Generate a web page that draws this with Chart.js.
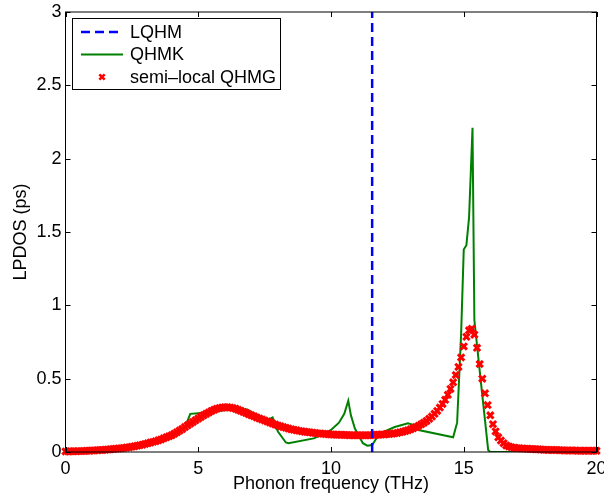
<!DOCTYPE html>
<html>
<head>
<meta charset="utf-8">
<script src="https://cdn.jsdelivr.net/npm/chart.js@4.4.1/dist/chart.umd.min.js"></script>
<style>
  html, body { margin: 0; padding: 0; background: #fff; }
  #wrap { width: 604px; height: 503px; }
</style>
</head>
<body>
<div id="wrap"><canvas id="lpdos" width="604" height="503"></canvas></div>
<script>
// LQHM: a single frequency (vertical dashed line)
const lqhmFreq = 11.55;

// QHMK curve (THz, ps)
const qhmkFreq  = [0, 1, 2, 3, 4, 4.5, 4.7, 5.0, 5.5, 6.0, 6.5, 6.85, 7.2, 7.5, 7.7, 7.8, 8.0, 8.3, 8.4, 9.35, 9.7, 10.0, 10.3, 10.5, 10.65, 10.75, 10.9, 11.05, 11.2, 11.37, 11.55, 11.7, 11.9, 12.4, 12.9, 13.1, 13.3, 14.6, 14.75, 14.9, 15.0, 15.1, 15.2, 15.33, 15.4, 15.65, 15.92, 16.0, 20];
const qhmkLpdos = [0, 0.004, 0.018, 0.045, 0.1, 0.17, 0.26, 0.265, 0.275, 0.285, 0.29, 0.29, 0.25, 0.215, 0.225, 0.235, 0.14, 0.065, 0.06, 0.093, 0.12, 0.15, 0.2, 0.26, 0.35, 0.25, 0.16, 0.11, 0.06, 0.043, 0.048, 0.09, 0.13, 0.17, 0.195, 0.185, 0.15, 0.1, 0.2, 0.8, 1.38, 1.41, 1.6, 2.21, 0.9, 0.47, 0.014, 0, 0];

// semi-local QHMG, sampled every 0.1 THz from 0 to 20
const qhmgLpdos = [
  0.004, 0.004, 0.005, 0.005, 0.005, 0.006, 0.006, 0.007, 0.008, 0.009, 0.010,
  0.011, 0.012, 0.013, 0.014, 0.016, 0.017, 0.019, 0.020, 0.022, 0.024,
  0.026, 0.028, 0.030, 0.033, 0.036, 0.039, 0.042, 0.046, 0.050, 0.055,
  0.059, 0.064, 0.069, 0.074, 0.080, 0.086, 0.093, 0.100, 0.107, 0.115,
  0.125, 0.135, 0.146, 0.157, 0.170, 0.182, 0.194, 0.205, 0.217, 0.228,
  0.239, 0.250, 0.260, 0.270, 0.280, 0.288, 0.295, 0.300, 0.303, 0.305,
  0.305, 0.303, 0.300, 0.295, 0.288, 0.281, 0.273, 0.266, 0.258, 0.250,
  0.243, 0.236, 0.229, 0.222, 0.215, 0.208, 0.201, 0.194, 0.187, 0.180,
  0.175, 0.170, 0.165, 0.160, 0.155, 0.151, 0.148, 0.144, 0.141, 0.138,
  0.136, 0.134, 0.132, 0.130, 0.127, 0.126, 0.124, 0.123, 0.121, 0.120,
  0.119, 0.118, 0.118, 0.117, 0.116, 0.116, 0.115, 0.115, 0.114, 0.114,
  0.114, 0.114, 0.114, 0.115, 0.115, 0.116, 0.117, 0.118, 0.119, 0.120,
  0.122, 0.123, 0.125, 0.127, 0.130, 0.134, 0.138, 0.143, 0.149, 0.155,
  0.162, 0.170, 0.179, 0.189, 0.200, 0.212, 0.226, 0.242, 0.260, 0.280,
  0.303, 0.328, 0.356, 0.390, 0.430, 0.475, 0.525, 0.580, 0.645, 0.720,
  0.785, 0.830, 0.840, 0.800, 0.710, 0.600, 0.500, 0.400, 0.320, 0.250,
  0.190, 0.140, 0.100, 0.078, 0.060, 0.045, 0.038, 0.032, 0.029, 0.026,
  0.025, 0.024, 0.023, 0.022, 0.021, 0.020, 0.019, 0.018, 0.017, 0.015,
  0.015, 0.014, 0.014, 0.013, 0.013, 0.012, 0.012, 0.011, 0.011, 0.010,
  0.010, 0.010, 0.009, 0.009, 0.009, 0.009, 0.008, 0.008, 0.008, 0.008
];
const qhmgStep = 0.1;

const xTicks = [0, 5, 10, 15, 20];
const yTicks = [0, 0.5, 1, 1.5, 2, 2.5, 3];

const FONT = 'Liberation Sans, Arial, Helvetica, sans-serif';

// Hilfsfunktion: Paare aus x- und y-Arrays bauen
function toPoints(xs, ys) {
    return ys.map(function(y, i) { return { x: xs[i], y: y }; });
}

const qhmgPoints = qhmgLpdos.map(function(y, i) {
    return { x: Math.round(i * qhmgStep * 10) / 10, y: y };
});

// weisser Hintergrund
const whiteBg = {
    id: 'whiteBg',
    beforeDraw(chart) {
        const c = chart.ctx;
        c.save();
        c.fillStyle = '#fff';
        c.fillRect(0, 0, chart.width, chart.height);
        c.restore();
    }
};

// MATLAB-artiger Rahmen mit Ticks nach innen
const frame = {
    id: 'frame',
    afterDatasetsDraw(chart) {
        const c = chart.ctx;
        const a = chart.chartArea;
        const xs = chart.scales.x, ys = chart.scales.y;
        const tl = 5;
        c.save();
        c.strokeStyle = '#000';
        c.lineWidth = 1;
        c.strokeRect(a.left, a.top, a.right - a.left, a.bottom - a.top);
        c.beginPath();
        xTicks.forEach(function(v) {
            const px = Math.round(xs.getPixelForValue(v)) + 0.5;
            c.moveTo(px, a.bottom); c.lineTo(px, a.bottom - tl);
            c.moveTo(px, a.top); c.lineTo(px, a.top + tl);
        });
        yTicks.forEach(function(v) {
            const py = Math.round(ys.getPixelForValue(v)) + 0.5;
            c.moveTo(a.left, py); c.lineTo(a.left + tl, py);
            c.moveTo(a.right, py); c.lineTo(a.right - tl, py);
        });
        c.stroke();
        c.restore();
    }
};

// Legende oben links im Plotbereich
const boxLegend = {
    id: 'boxLegend',
    afterDraw(chart) {
        const c = chart.ctx;
        const bx = 72.5, by = 18.5, bw = 208, bh = 71;
        c.save();
        c.fillStyle = '#fff';
        c.fillRect(bx, by, bw, bh);
        c.strokeStyle = '#000';
        c.lineWidth = 1;
        c.strokeRect(bx, by, bw, bh);

        const x0 = 81, x1 = 123, tx = 130;
        const rows = [32, 54.5, 77];

        c.lineWidth = 2.5;
        c.strokeStyle = '#0000ff';
        c.setLineDash([9, 5]);
        c.beginPath(); c.moveTo(x0, rows[0]); c.lineTo(x1, rows[0]); c.stroke();
        c.setLineDash([]);

        c.lineWidth = 2;
        c.strokeStyle = '#008000';
        c.beginPath(); c.moveTo(x0, rows[1]); c.lineTo(x1, rows[1]); c.stroke();

        c.lineWidth = 2.5;
        c.strokeStyle = '#ff0000';
        const mx = 102, my = rows[2], r = 2.7;
        c.beginPath();
        c.moveTo(mx - r, my - r); c.lineTo(mx + r, my + r);
        c.moveTo(mx - r, my + r); c.lineTo(mx + r, my - r);
        c.stroke();

        c.fillStyle = '#000';
        c.font = '18px ' + FONT;
        c.textBaseline = 'middle';
        c.textAlign = 'left';
        c.fillText('LQHM', tx, rows[0] + 1);
        c.fillText('QHMK', tx, rows[1] + 1);
        c.fillText('semi–local QHMG', tx, rows[2] + 1);
        c.restore();
    }
};

const config = {
    type: 'scatter',
    data: {
        datasets: [
            {
                label: 'LQHM',
                data: [{ x: lqhmFreq, y: 0 }, { x: lqhmFreq, y: 3 }],
                showLine: true,
                borderColor: '#0000ff',
                borderWidth: 2.5,
                borderDash: [9, 5],
                pointRadius: 0,
                order: 0
            },
            {
                label: 'QHMK',
                data: toPoints(qhmkFreq, qhmkLpdos),
                showLine: true,
                borderColor: '#008000',
                borderWidth: 2,
                tension: 0,
                pointRadius: 0,
                order: 2
            },
            {
                label: 'semi-local QHMG',
                data: qhmgPoints,
                showLine: false,
                pointStyle: 'crossRot',
                pointRadius: 4.5,
                pointBorderWidth: 3,
                borderColor: '#ff0000',
                backgroundColor: '#ff0000',
                clip: false,
                order: 1
            }
        ]
    },
    options: {
        responsive: false,
        animation: false,
        events: [],
        layout: { padding: { left: 0, right: 7.5, top: 12, bottom: 0 } },
        plugins: {
            legend: { display: false },
            tooltip: { enabled: false }
        },
        scales: {
            x: {
                type: 'linear',
                min: 0,
                max: 20,
                grid: { display: false, drawTicks: false },
                border: { display: false },
                ticks: {
                    stepSize: 5,
                    padding: 6,
                    color: '#000',
                    maxRotation: 0,
                    font: { family: FONT, size: 18 },
                    callback: function(v) { return String(v); }
                },
                title: {
                    display: true,
                    text: 'Phonon frequency (THz)',
                    color: '#000',
                    font: { family: FONT, size: 18 },
                    padding: { top: 0, bottom: 8 }
                },
                afterFit: function(scale) {
                    scale.height = 51;
                    scale.paddingLeft = 0;
                    scale.paddingRight = 0;
                }
            },
            y: {
                type: 'linear',
                min: 0,
                max: 3,
                grid: { display: false, drawTicks: false },
                border: { display: false },
                ticks: {
                    stepSize: 0.5,
                    padding: 4,
                    color: '#000',
                    font: { family: FONT, size: 18 },
                    callback: function(v) { return String(v); }
                },
                title: {
                    display: true,
                    text: 'LPDOS (ps)',
                    color: '#000',
                    font: { family: FONT, size: 18 },
                    padding: { top: 10, bottom: 0 }
                },
                afterFit: function(scale) {
                    scale.width = 65.5;
                    scale.paddingTop = 0;
                    scale.paddingBottom = 0;
                }
            }
        }
    },
    plugins: [whiteBg, frame, boxLegend]
};

new Chart(document.getElementById('lpdos').getContext('2d'), config);
</script>
</body>
</html>
